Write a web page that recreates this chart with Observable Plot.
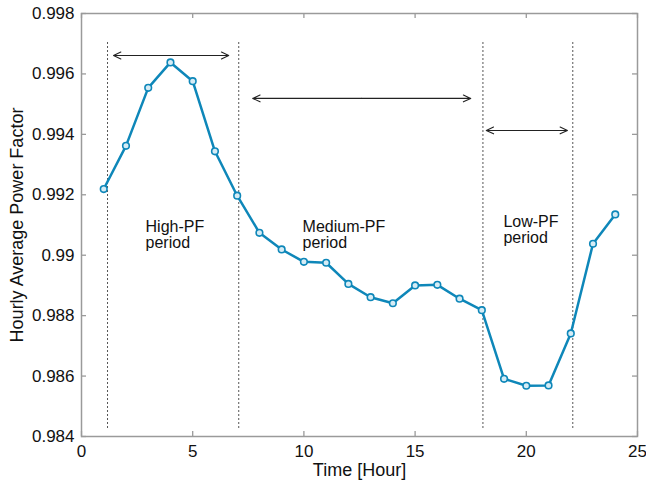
<!DOCTYPE html>
<html>
<head>
<meta charset="utf-8">
<script src="https://cdn.jsdelivr.net/npm/d3@7"></script>
<script src="https://cdn.jsdelivr.net/npm/@observablehq/plot@0.6"></script>
<style>
  html, body { margin: 0; padding: 0; background: #fff; }
  #chart svg { display: block; }
</style>
</head>
<body>
<div id="chart"></div>
<script>
// Data
const hours = [1,2,3,4,5,6,7,8,9,10,11,12,13,14,15,16,17,18,19,20,21,22,23,24];
const powerFactor = [0.99219,0.99362,0.99554,0.99638,0.99576,0.99344,0.99197,0.99074,0.99019,0.98978,0.98975,0.98905,0.98861,0.98841,0.98900,0.98902,0.98856,0.98818,0.98591,0.98568,0.98569,0.98741,0.99038,0.99135];
const xTicks = [0,5,10,15,20,25];
const yTicks = [0.984,0.986,0.988,0.990,0.992,0.994,0.996,0.998];
const boundaries = [1.17, 7.07, 18.05, 22.09];
const arrowStart = [1.44, 7.7, 18.2];
const arrowEnd = [6.62, 17.5, 21.85];
const arrowY = [0.99661, 0.99519, 0.99413];
const periodLabels = ["High-PF\nperiod", "Medium-PF\nperiod", "Low-PF\nperiod"];
const periodLabelX = [2.88, 9.94, 18.97];
const periodLabelY = [0.99115, 0.99115, 0.99131];
const xLabel = "Time [Hour]";
const yLabel = "Hourly Average Power Factor";

const series = hours.map((h, i) => ({h, pf: powerFactor[i]}));
const halves = [];
arrowStart.forEach((s, i) => {
  const m = (s + arrowEnd[i]) / 2;
  halves.push({x1: m, x2: s, y: arrowY[i]});
  halves.push({x1: m, x2: arrowEnd[i], y: arrowY[i]});
});
const labels = periodLabels.map((t, i) => ({t, x: periodLabelX[i], y: periodLabelY[i]}));

const font = "'Liberation Sans', Arial, Helvetica, sans-serif";
const lineColor = "#0e87b9";
const frameColor = "#9a9a9a";
const plotH = 485 - 13 - 49;
const plotW = 646 - 81 - 9;
const tickLen = 5;

const chart = Plot.plot({
  width: 646,
  height: 485,
  marginLeft: 81,
  marginRight: 9,
  marginTop: 13,
  marginBottom: 49,
  style: {fontFamily: font, background: "#fff"},
  x: {domain: [0, 25]},
  y: {domain: [0.984, 0.998]},
  marks: [
    // boundary dotted lines
    Plot.ruleX(boundaries, {y1: 0.99704, y2: 0.98426, stroke: "#555", strokeWidth: 1, strokeDasharray: "2,2"}),
    // inward ticks (y1 = top, y2 = bottom)
    Plot.ruleX(xTicks, {y1: 0.998, y2: 0.984, insetTop: plotH - tickLen, stroke: frameColor, strokeWidth: 1.3}),
    Plot.ruleX(xTicks, {y1: 0.998, y2: 0.984, insetBottom: plotH - tickLen, stroke: frameColor, strokeWidth: 1.3}),
    Plot.ruleY(yTicks, {x1: 0, x2: 25, insetRight: plotW - tickLen, stroke: frameColor, strokeWidth: 1.3}),
    Plot.ruleY(yTicks, {x1: 0, x2: 25, insetLeft: plotW - tickLen, stroke: frameColor, strokeWidth: 1.3}),
    Plot.frame({stroke: frameColor, strokeWidth: 1.5}),
    Plot.axisX({ticks: xTicks, tickSize: 0, tickPadding: 8, fontSize: 17, label: null, tickFormat: d => String(d), fill: "#111"}),
    Plot.axisY({ticks: yTicks, tickSize: 0, tickPadding: 7, fontSize: 17, label: null, tickFormat: d => String(+d.toFixed(3)), fill: "#111"}),
    // arrows
    Plot.arrow(halves, {x1: "x1", x2: "x2", y1: "y", y2: "y", stroke: "#222", strokeWidth: 1.1, headLength: 11, headAngle: 50}),
    // period labels
    Plot.text(labels, {x: "x", y: "y", text: "t", textAnchor: "start", lineAnchor: "top", lineHeight: 1.0, fontSize: 16, fill: "#111"}),
    // series
    Plot.line(series, {x: "h", y: "pf", stroke: lineColor, strokeWidth: 2.5}),
    Plot.dot(series, {x: "h", y: "pf", r: 3.3, stroke: lineColor, strokeWidth: 1.6, fill: "#d6ecf5"}),
    // axis titles
    Plot.text([xLabel], {frameAnchor: "bottom", textAnchor: "middle", dy: 34, fontSize: 18, fill: "#111", lineAnchor: "middle"}),
    Plot.text([yLabel], {frameAnchor: "left", textAnchor: "middle", dx: -64, rotate: -90, fontSize: 18, fill: "#111", lineAnchor: "middle"})
  ]
});
document.getElementById("chart").appendChild(chart);
</script>
</body>
</html>
